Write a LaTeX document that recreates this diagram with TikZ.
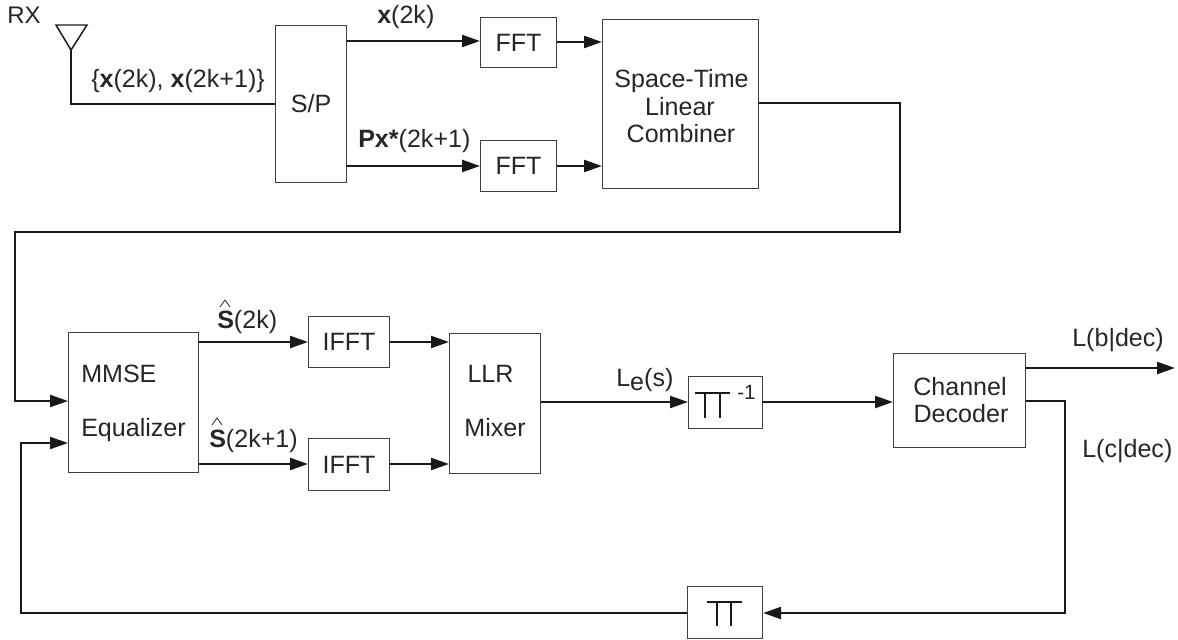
\documentclass[tikz,border=0pt]{standalone}
\usepackage{fontspec}
\setmainfont{Liberation Sans}
\usetikzlibrary{arrows.meta,calc}
\tikzset{
 blk/.style={draw=black!75,line width=0.8pt,inner sep=0,fill=white,align=center},
 wire/.style={line width=1.7pt,draw=black!90},
 arr/.style={wire,-{Triangle[length=13.5pt,width=9pt]}},
 lab/.style={inner sep=0,text=black!85,font=\fontsize{18.8}{20}\selectfont},
 pibar/.style={line width=1.3pt,draw=black!90},
 hatmark/.style={line width=0.6pt,draw=black!85}
}
\newcommand{\mybox}[6]{\node[blk,minimum width=#4*0.75pt,minimum height=#5*0.75pt,anchor=north west,text=black!85,font=\fontsize{18.8}{20}\selectfont] (#1) at (#2,#3) {#6};}
\begin{document}
\begin{tikzpicture}[x=0.75pt,y=-0.75pt]
\useasboundingbox (0,0) rectangle (1178,639);
\mybox{sp}{275}{25}{71}{157}{S/P}
\mybox{fa}{480}{17}{76}{50}{FFT}
\mybox{fb}{480}{140}{76}{51}{FFT}
\mybox{st}{602}{19}{156}{169}{}
\mybox{eq}{68}{332}{130}{140}{}
\mybox{ia}{308}{316}{81}{51}{IFFT}
\mybox{ib}{308}{438}{81}{52}{IFFT}
\mybox{ll}{449}{333}{91}{140}{}
\mybox{pa}{688}{376}{74}{52}{}
\mybox{dc}{893}{353}{132}{94}{}
\mybox{pb}{687}{586}{75}{52}{}
% antenna
\coordinate (ant) at (71,50);
\draw[wire,line width=1.1pt] (56,25) -- (87,25) -- (ant) -- cycle;
\draw[wire] (ant) -- (71,104) -- (sp.west |- 0,104);
% top
\draw[arr] (sp.east |- 0,41) -- (fa.west |- 0,41);
\draw[arr] (sp.east |- 0,166) -- (fb.west |- 0,166);
\draw[arr] (fa.east |- 0,42) -- (st.west |- 0,42);
\draw[arr] (fb.east |- 0,166) -- (st.west |- 0,166);
\draw[arr] (st.east |- 0,103) -- (900,103) -- (900,232) -- (15,232) -- (15,401) -- (eq.west |- 0,401);
% middle
\draw[arr] (eq.east |- 0,342) -- (ia.west |- 0,342);
\draw[arr] (eq.east |- 0,464) -- (ib.west |- 0,464);
\draw[arr] (ia.east |- 0,342) -- (ll.west |- 0,342);
\draw[arr] (ib.east |- 0,464) -- (ll.west |- 0,464);
\draw[arr] (ll.east |- 0,402) -- (pa.west |- 0,402);
\draw[arr] (pa.east |- 0,402) -- (dc.west |- 0,402);
\draw[arr] (dc.east |- 0,368) -- (1175,368);
\draw[arr] (dc.east |- 0,401) -- (1065,401) -- (1065,613) -- (pb.east |- 0,613);
\draw[arr] (pb.west |- 0,613) -- (21,613) -- (21,443) -- (eq.west |- 0,443);
% pi symbols
\draw[pibar] (695,393) -- (730,393) (705,393) -- (705,418) (720,393) -- (720,418);
\draw[pibar] (707,602) -- (742,602) (717,602) -- (717,626) (731,602) -- (731,626);
% hats
\draw[hatmark] (220,307) -- (225,300) -- (230,307);
\draw[hatmark] (212,425) -- (217,418) -- (222,425);
% box texts
\node[lab,anchor=base] (t7) at (681.5,87) {Space-Time};
\node[lab,anchor=base] (t8) at (680,115) {Linear};
\node[lab,anchor=base] (t9) at (681,142) {Combiner};
\node[lab,anchor=base west] (t1) at (81,382) {MMSE};
\node[lab,anchor=base west] (t2) at (81,436) {Equalizer};
\node[lab,anchor=base] (t3) at (490.5,382) {LLR};
\node[lab,anchor=base] (t4) at (495,436) {Mixer};
\node[lab,anchor=base] (t5) at (960,395) {Channel};
\node[lab,anchor=base] (t6) at (961,422) {Decoder};
% labels
\node[lab,anchor=base west,font=\fontsize{18}{20}\selectfont] (rx) at (7,23) {RX};
\node[lab,anchor=base west] (l1) at (91,87) {\{\textbf{x}(2k), \textbf{x}(2k+1)\}};
\node[lab,anchor=base west] (l2) at (377,23) {\textbf{x}(2k)};
\node[lab,anchor=base west] (l3) at (358,147) {\textbf{Px*}(2k+1)};
\node[lab,anchor=base west] (l5) at (217,328) {\textbf{S}(2k)};
\node[lab,anchor=base west] (l6) at (209,447) {\textbf{S}(2k+1)};
\node[lab,anchor=base west] (l7) at (616,386) {L\raisebox{-3pt}{e}(s)};
\node[lab,anchor=base west,font=\fontsize{15.5}{18}\selectfont] (l8) at (737,399) {-1};
\node[lab,anchor=base west] (l9) at (1072,346) {L(b|dec)};
\node[lab,anchor=base west] (l10) at (1082,457) {L(c|dec)};
\end{tikzpicture}
\end{document}
